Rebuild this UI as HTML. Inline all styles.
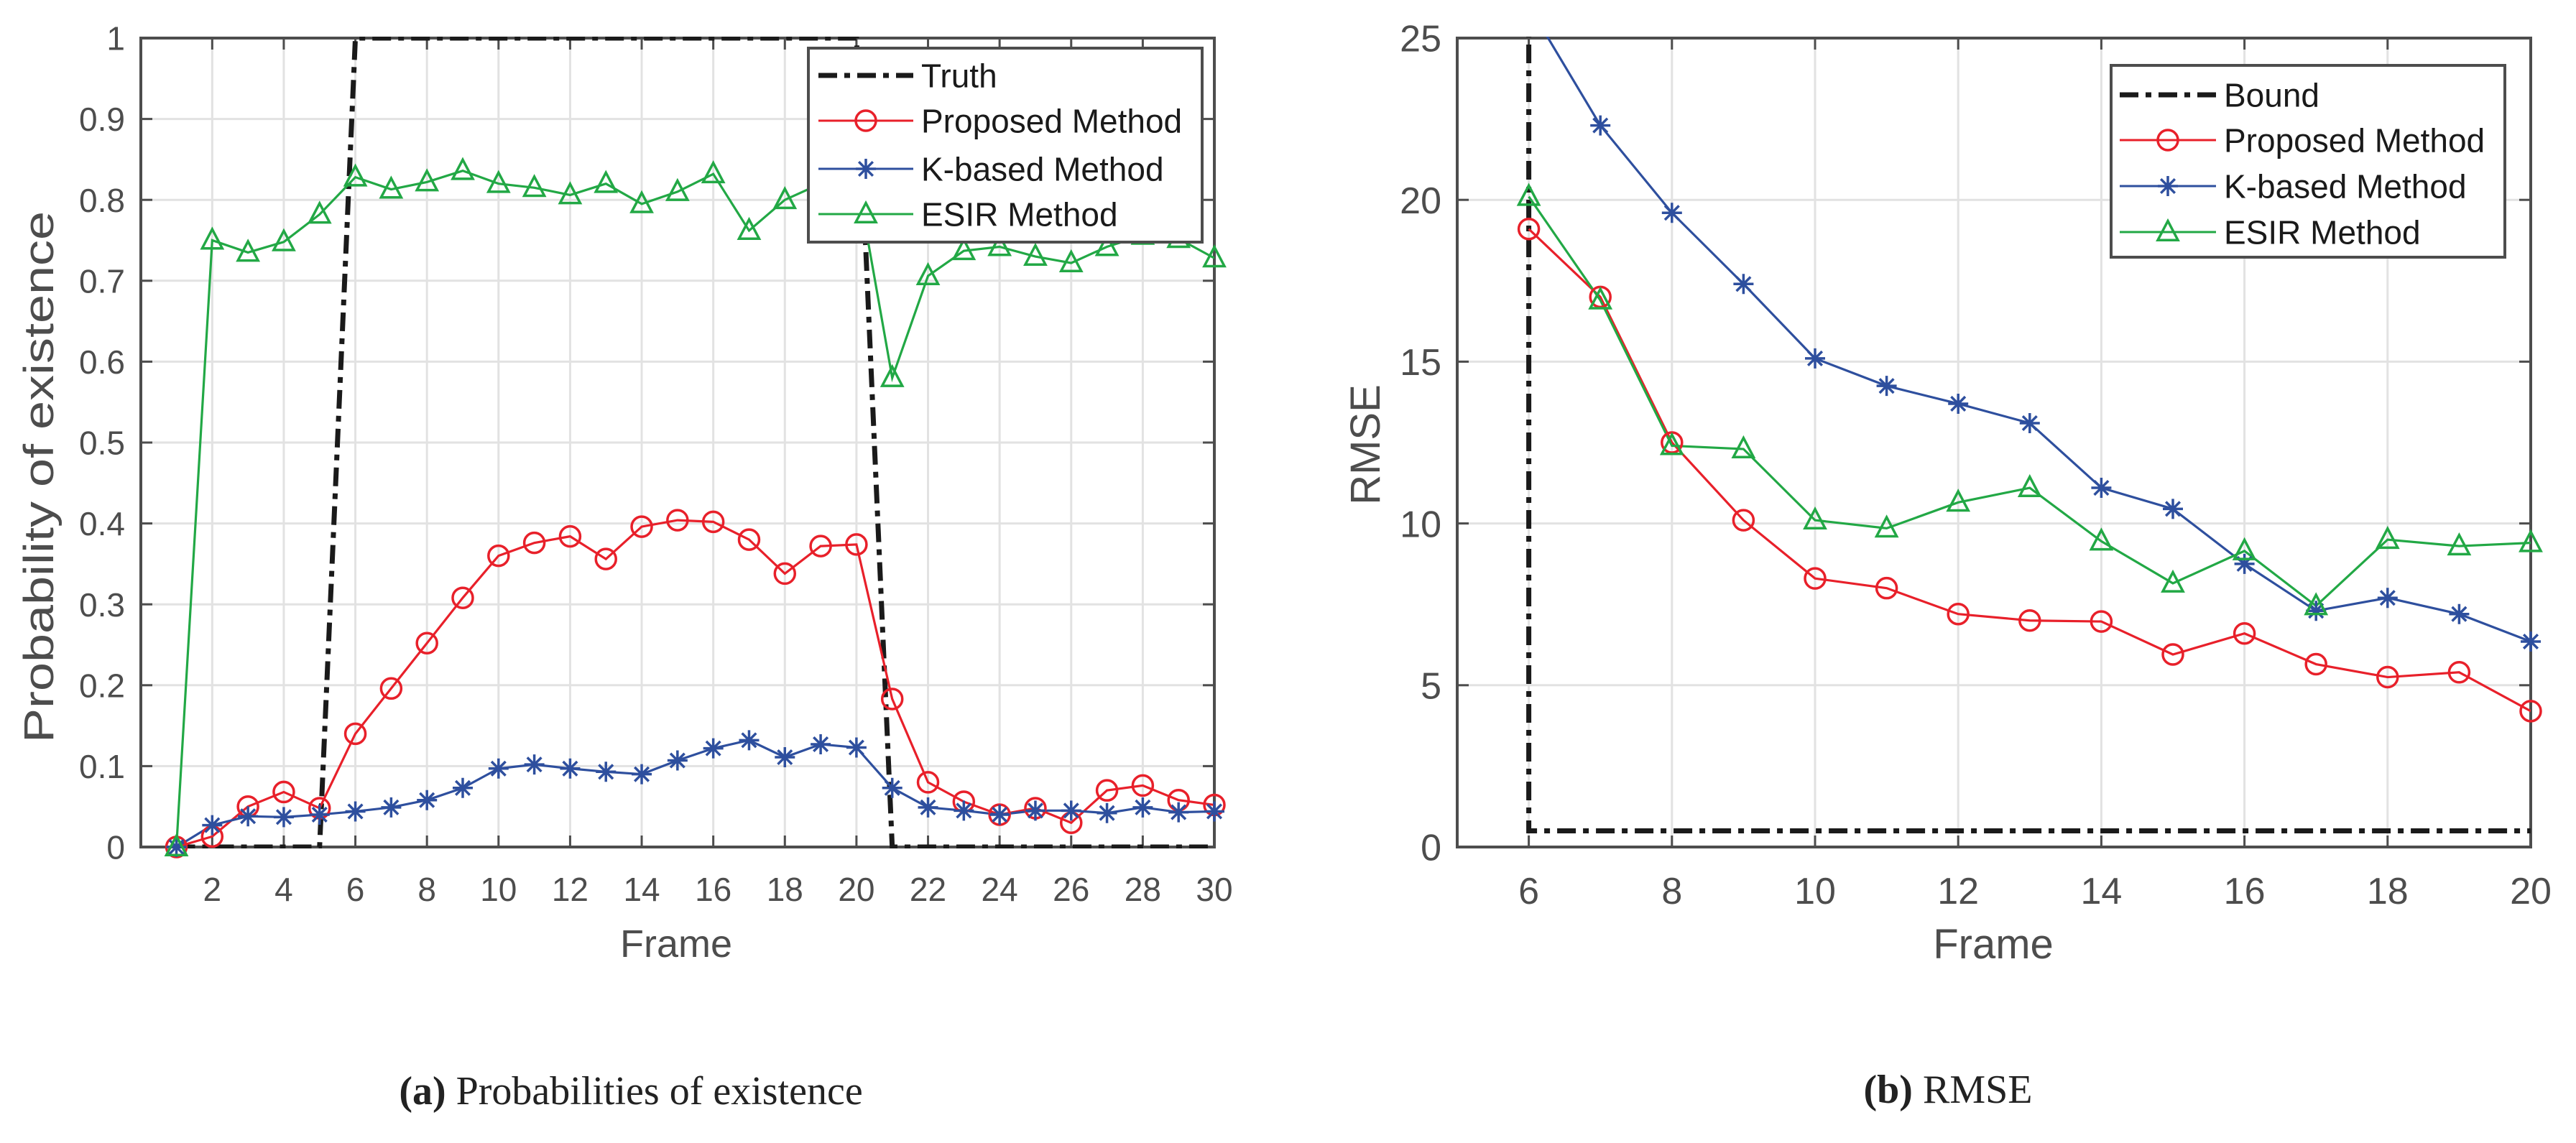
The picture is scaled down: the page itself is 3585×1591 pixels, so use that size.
<!DOCTYPE html>
<html><head><meta charset="utf-8"><style>
html,body{margin:0;padding:0;background:#fff}
svg{display:block}
</style></head><body>
<svg id="fig" width="3585" height="1591" viewBox="0 0 3585 1591" xmlns="http://www.w3.org/2000/svg" font-family="Liberation Sans, sans-serif">
<rect x="0" y="0" width="3585" height="1591" fill="#fff"/>
<g id="chartA"></g>
<g id="chartB"></g>
<text x="878" y="1537" text-anchor="middle" font-family="Liberation Serif, serif" font-size="56" fill="#222"><tspan font-weight="bold">(a)</tspan> Probabilities of existence</text>
<text x="2711" y="1535" text-anchor="middle" font-family="Liberation Serif, serif" font-size="56" fill="#222"><tspan font-weight="bold">(b)</tspan> RMSE</text>
</svg>
<script>
// ---- Chart A data ----
const framesA = [1,2,3,4,5,6,7,8,9,10,11,12,13,14,15,16,17,18,19,20,21,22,23,24,25,26,27,28,29,30];
const truthA = [0,0,0,0,0,1,1,1,1,1,1,1,1,1,1,1,1,1,1,1,0,0,0,0,0,0,0,0,0,0];
const proposedA = [0,0.013,0.05,0.068,0.048,0.14,0.196,0.252,0.308,0.36,0.376,0.384,0.356,0.396,0.404,0.402,0.38,0.338,0.372,0.374,0.183,0.08,0.056,0.04,0.048,0.03,0.07,0.076,0.058,0.052];
const kbasedA = [0,0.027,0.038,0.037,0.040,0.044,0.049,0.058,0.073,0.097,0.102,0.097,0.093,0.090,0.107,0.122,0.132,0.111,0.127,0.123,0.073,0.049,0.045,0.040,0.045,0.045,0.042,0.049,0.043,0.044];
const esirA = [0,0.75,0.735,0.748,0.782,0.828,0.813,0.822,0.836,0.82,0.815,0.806,0.82,0.795,0.81,0.832,0.762,0.8,0.82,0.83,0.58,0.706,0.737,0.742,0.73,0.722,0.742,0.756,0.752,0.728];
const xTicksA = [2,4,6,8,10,12,14,16,18,20,22,24,26,28,30];
const yTicksA = [0,0.1,0.2,0.3,0.4,0.5,0.6,0.7,0.8,0.9,1];
const yTickLabelsA = ["0","0.1","0.2","0.3","0.4","0.5","0.6","0.7","0.8","0.9","1"];
const legendA = ["Truth","Proposed Method","K-based Method","ESIR Method"];
// ---- Chart B data ----
const framesB = [6,7,8,9,10,11,12,13,14,15,16,17,18,19,20];
const proposedB = [19.1,17.0,12.5,10.1,8.3,8.0,7.2,7.0,6.97,5.95,6.6,5.65,5.25,5.4,4.2];
const kbasedB = [26,22.3,19.6,17.4,15.1,14.25,13.7,13.1,11.1,10.45,8.75,7.3,7.7,7.2,6.35];
const esirB = [20.1,16.9,12.4,12.3,10.1,9.85,10.65,11.1,9.45,8.15,9.15,7.45,9.5,9.3,9.4];
const boundX = [6,6,20];
const boundY = [26,0.5,0.5];
const xTicksB = [6,8,10,12,14,16,18,20];
const yTicksB = [0,5,10,15,20,25];
const legendB = ["Bound","Proposed Method","K-based Method","ESIR Method"];

const NS="http://www.w3.org/2000/svg";
const RED="#e8202a", BLUE="#2e4f9e", GREEN="#22a845", AX="#4d4d4d", GRID="#e2e2e2";
function mk(parent,tag,attrs){const e=document.createElementNS(NS,tag);for(const k in attrs)e.setAttribute(k,attrs[k]);parent.appendChild(e);return e;}

function marker(g,type,x,y,color,r){
  let m;
  if(type==='o'){m=mk(g,'circle',{cx:x,cy:y,r:r,fill:'none',stroke:color,'stroke-width':3.5});}
  else if(type==='*'){
    m=mk(g,'path',{d:`M${x-r} ${y}H${x+r}M${x} ${y-r}V${y+r}M${x-r*0.7} ${y-r*0.7}L${x+r*0.7} ${y+r*0.7}M${x-r*0.7} ${y+r*0.7}L${x+r*0.7} ${y-r*0.7}`,stroke:color,'stroke-width':3.5,fill:'none'});
  } else {
    m=mk(g,'path',{d:`M${x} ${y-r*1.1}L${x+r} ${y+r*0.8}L${x-r} ${y+r*0.8}Z`,stroke:color,'stroke-width':3.5,fill:'none'});
  }
  return m;
}

function drawChart(cfg){
  const g=document.getElementById(cfg.id);
  const {L,R,T,B}=cfg;
  const sx=v=>L+(v-cfg.xmin)/(cfg.xmax-cfg.xmin)*(R-L);
  const sy=v=>B-(v-cfg.ymin)/(cfg.ymax-cfg.ymin)*(B-T);
  const defs=mk(g,'defs',{});
  const cp=mk(defs,'clipPath',{id:cfg.id+'clip'});
  mk(cp,'rect',{x:L,y:T-2,width:R-L,height:B-T+4});
  cfg.xTicks.forEach(t=>{const l=mk(g,'line',{x1:sx(t),x2:sx(t),y1:T,y2:B,stroke:GRID,'stroke-width':3});
    
    });
  cfg.yTicks.forEach(t=>{const l=mk(g,'line',{x1:L,x2:R,y1:sy(t),y2:sy(t),stroke:GRID,'stroke-width':3});
    
    });
  const box=mk(g,'rect',{x:L,y:T,width:R-L,height:B-T,fill:'none',stroke:AX,'stroke-width':4});
  
  
  cfg.xTicks.forEach((t,i)=>{
    mk(g,'line',{x1:sx(t),x2:sx(t),y1:B,y2:B-16,stroke:AX,'stroke-width':3});
    mk(g,'line',{x1:sx(t),x2:sx(t),y1:T,y2:T+16,stroke:AX,'stroke-width':3});
    const tx=mk(g,'text',{x:sx(t),y:cfg.xLabY,'text-anchor':'middle','font-size':cfg.tickFs,fill:AX});
    tx.textContent=String(t);
    
    
  });
  cfg.yTicks.forEach((t,i)=>{
    mk(g,'line',{x1:L,x2:L+16,y1:sy(t),y2:sy(t),stroke:AX,'stroke-width':3});
    mk(g,'line',{x1:R,x2:R-16,y1:sy(t),y2:sy(t),stroke:AX,'stroke-width':3});
    const tx=mk(g,'text',{x:cfg.yLabX,y:sy(t)+cfg.tickFs*0.36,'text-anchor':'end','font-size':cfg.tickFs,fill:AX});
    tx.textContent=cfg.yLabels?cfg.yLabels[i]:String(t);
    
    
  });
  const xt=mk(g,'text',{x:cfg.xTitleX,y:cfg.xTitleY,'text-anchor':'middle','font-size':cfg.titleFs,fill:AX});
  xt.textContent=cfg.xTitle;
  
  
  const ya={x:0,y:0,'text-anchor':'middle','font-size':cfg.yTitleFs||cfg.titleFs,fill:AX,transform:`translate(${cfg.yTitleX},${cfg.yTitleY}) rotate(-90)`};
  if(cfg.yTitleLen){ya.textLength=cfg.yTitleLen;ya.lengthAdjust='spacingAndGlyphs';}
  const yt=mk(g,'text',ya);
  yt.textContent=cfg.yTitle;
  
  
  const sg=mk(g,'g',{'clip-path':`url(#${cfg.id}clip)`});
  const ref=mk(sg,'polyline',{points:cfg.refX.map((x,i)=>sx(x)+','+sy(cfg.refY[i])).join(' '),fill:'none',stroke:'#1a1a1a','stroke-width':7,'stroke-dasharray':'26 10 8 10'});
  
  
  const mg=mk(g,'g',{});
  cfg.series.forEach(s=>{
    const pl=mk(sg,'polyline',{points:cfg.xs.map((x,i)=>sx(x)+','+sy(s.v[i])).join(' '),fill:'none',stroke:s.c,'stroke-width':3.2});
    
    
    cfg.xs.forEach((x,i)=>{ if(s.v[i]>cfg.ymax) return;
      const m=marker(mg,s.m,sx(x),sy(s.v[i]),s.c,cfg.mr);
      
      
    });
  });
  const lg=cfg.leg;
  const lb=mk(g,'rect',{x:lg.x,y:lg.y,width:lg.w,height:lg.h,fill:'#fff',stroke:AX,'stroke-width':4});
  
  
  const styles=[{c:'#1a1a1a',m:null},{c:RED,m:'o'},{c:BLUE,m:'*'},{c:GREEN,m:'^'}];
  cfg.legendLabels.forEach((lab,i)=>{
    const y=lg.rows[i];
    const st=styles[i];
    if(i===0) mk(g,'line',{x1:lg.l1,x2:lg.l2,y1:y,y2:y,stroke:st.c,'stroke-width':7,'stroke-dasharray':'26 10 8 10'});
    else {mk(g,'line',{x1:lg.l1,x2:lg.l2,y1:y,y2:y,stroke:st.c,'stroke-width':3}); marker(g,st.m,(lg.l1+lg.l2)/2,y,st.c,cfg.mr);}
    const t=mk(g,'text',{x:lg.tx,y:y+lg.fs*0.36,'font-size':lg.fs,fill:'#1a1a1a'});
    t.textContent=lab;
    
    
  });
}

drawChart({id:'chartA',L:196,R:1690,T:53,B:1179,xmin:0.006,xmax:30,ymin:0,ymax:1,
  xTicks:xTicksA,yTicks:yTicksA,yLabels:yTickLabelsA,tickFs:46,xLabY:1254,yLabX:174,
  xTitle:'Frame',yTitle:'Probability of existence',titleFs:54,yTitleFs:58,yTitleLen:740,xTitleX:941,xTitleY:1332,yTitleX:74,yTitleY:664,
  xs:framesA,refX:framesA,refY:truthA,mr:14,
  series:[{name:'proposed',v:proposedA,c:RED,m:'o'},{name:'k-based',v:kbasedA,c:BLUE,m:'*'},{name:'esir',v:esirA,c:GREEN,m:'^'}],
  legendLabels:legendA,leg:{x:1125,y:67,w:548,h:270,rows:[105,168,235,298],l1:1139,l2:1271,tx:1282,fs:46}});
drawChart({id:'chartB',L:2028,R:3522,T:53,B:1179,xmin:5,xmax:20,ymin:0,ymax:25,
  xTicks:xTicksB,yTicks:yTicksB,tickFs:52,xLabY:1258,yLabX:2006,
  xTitle:'Frame',yTitle:'RMSE',titleFs:58,xTitleX:2774,xTitleY:1334,yTitleX:1920,yTitleY:619,
  xs:framesB,refX:boundX,refY:boundY,mr:14,
  series:[{name:'proposed',v:proposedB,c:RED,m:'o'},{name:'k-based',v:kbasedB,c:BLUE,m:'*'},{name:'esir',v:esirB,c:GREEN,m:'^'}],
  legendLabels:legendB,leg:{x:2938,y:91,w:548,h:267,rows:[132,195,259,323],l1:2950,l2:3084,tx:3095,fs:46}});
</script>
</body></html>
